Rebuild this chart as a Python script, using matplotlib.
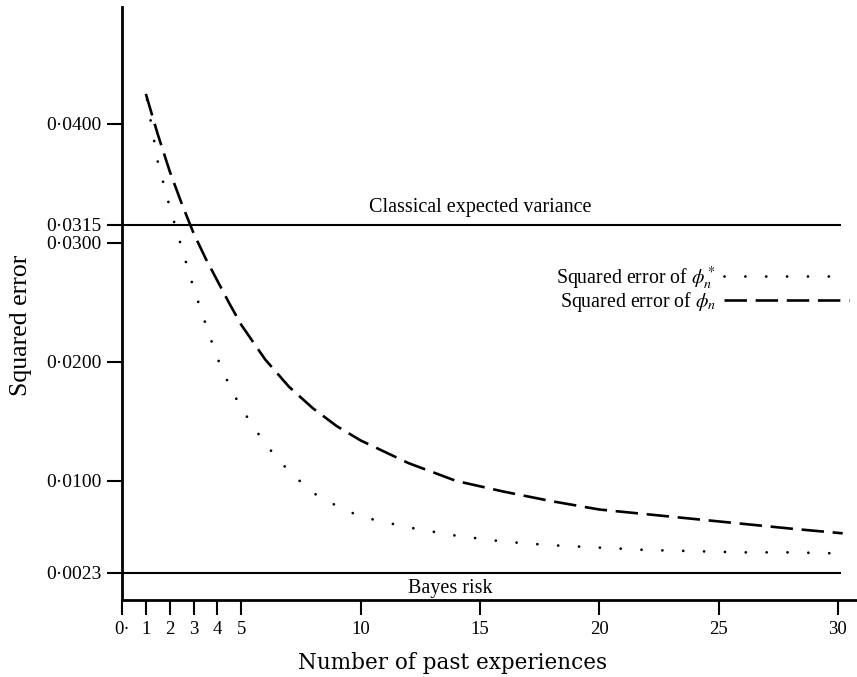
import numpy as np
import matplotlib
matplotlib.use("Agg")
import matplotlib.pyplot as plt

# --- DATA ---
n_dash = [1, 1.5, 2, 2.5, 3, 3.5, 4, 4.5, 5, 6, 7, 8, 9, 10, 12, 14, 16, 18, 20, 22, 24, 26, 28, 30.2]
err_phi = [0.0425, 0.0391, 0.0360, 0.0333, 0.0308, 0.0287, 0.0268, 0.0249, 0.0231, 0.0202, 0.0179,
           0.0161, 0.0146, 0.0134, 0.0115, 0.0100, 0.0091, 0.0083, 0.0076, 0.0072, 0.0068, 0.0064,
           0.0060, 0.0056]

n_dot = [1.05, 1.5, 2, 2.5, 3, 3.5, 4, 4.5, 5, 6, 7, 8, 9, 10, 12, 14, 16, 18, 20, 22, 24, 26, 28, 30.3]
err_phi_star = [0.0420, 0.0368, 0.0330, 0.0296, 0.0262, 0.0232, 0.0203, 0.0180, 0.0161, 0.0131, 0.0108,
                0.0090, 0.0079, 0.0070, 0.0061, 0.0054, 0.0049, 0.0046, 0.0044, 0.0042, 0.0041,
                0.0040, 0.0040, 0.0039]

classical_var = 0.0315
bayes_risk = 0.0023
line_end = 30.15

x_ticks = [0, 1, 2, 3, 4, 5, 10, 15, 20, 25, 30]
x_labels = ["0·", "1", "2", "3", "4", "5", "10", "15", "20", "25", "30"]
y_ticks = [0.0400, 0.0315, 0.0300, 0.0200, 0.0100, 0.0023]
y_labels = ["0·0400", "0·0315", "0·0300", "0·0200", "0·0100", "0·0023"]

# --- STYLE ---
plt.rcParams["font.family"] = ["Liberation Serif", "DejaVu Serif"]
plt.rcParams["mathtext.fontset"] = "stix"

W, H = 857, 677
fig = plt.figure(figsize=(W / 100, H / 100), dpi=100)
ax = fig.add_axes([122 / W, (H - 600) / H, (W - 122) / W, (600 - 7) / H])

ax.plot(n_dot, err_phi_star, color="black", lw=2.0, linestyle=(0, (0.01, 7.5)),
        dash_capstyle="round", label=r"Squared error of $\phi_n^*$")
ax.plot(n_dash, err_phi, color="black", lw=1.9, linestyle=(0, (8.5, 3.3)),
        label=r"Squared error of $\phi_n$")

ax.hlines([classical_var, bayes_risk], 0, line_end, color="black", lw=1.5)
ax.text(15.0, classical_var + 0.0007, "Classical expected variance", ha="center", va="bottom", fontsize=14.5)
ax.text(13.75, bayes_risk - 0.0005, "Bayes risk", ha="center", va="top", fontsize=14.5)

ax.set_xlim(0, 30.8)
ax.set_ylim(0, 0.0498)

ax.set_xticks(x_ticks)
ax.set_xticklabels(x_labels, fontsize=13.5)
ax.set_yticks(y_ticks)
ax.set_yticklabels(y_labels, fontsize=14)
ax.tick_params(axis="both", direction="out", length=11, width=1.5, pad=4)

for side in ["top", "right"]:
    ax.spines[side].set_visible(False)
for side in ["left", "bottom"]:
    ax.spines[side].set_linewidth(2.0)

ax.set_xlabel("Number of past experiences", fontsize=15.5, family=["DejaVu Serif"])
ax.xaxis.set_label_coords(0.45, -0.087)
ax.set_ylabel("Squared error", fontsize=18.5)
ax.yaxis.set_label_coords(-0.122, 0.464)

leg = ax.legend(loc="upper right", bbox_to_anchor=(1.0, 0.58), frameon=False, markerfirst=False,
                fontsize=14.3, handlelength=6.3, handletextpad=0.4, labelspacing=-0.1, borderaxespad=0)

fig.savefig("out.png", dpi=100)
